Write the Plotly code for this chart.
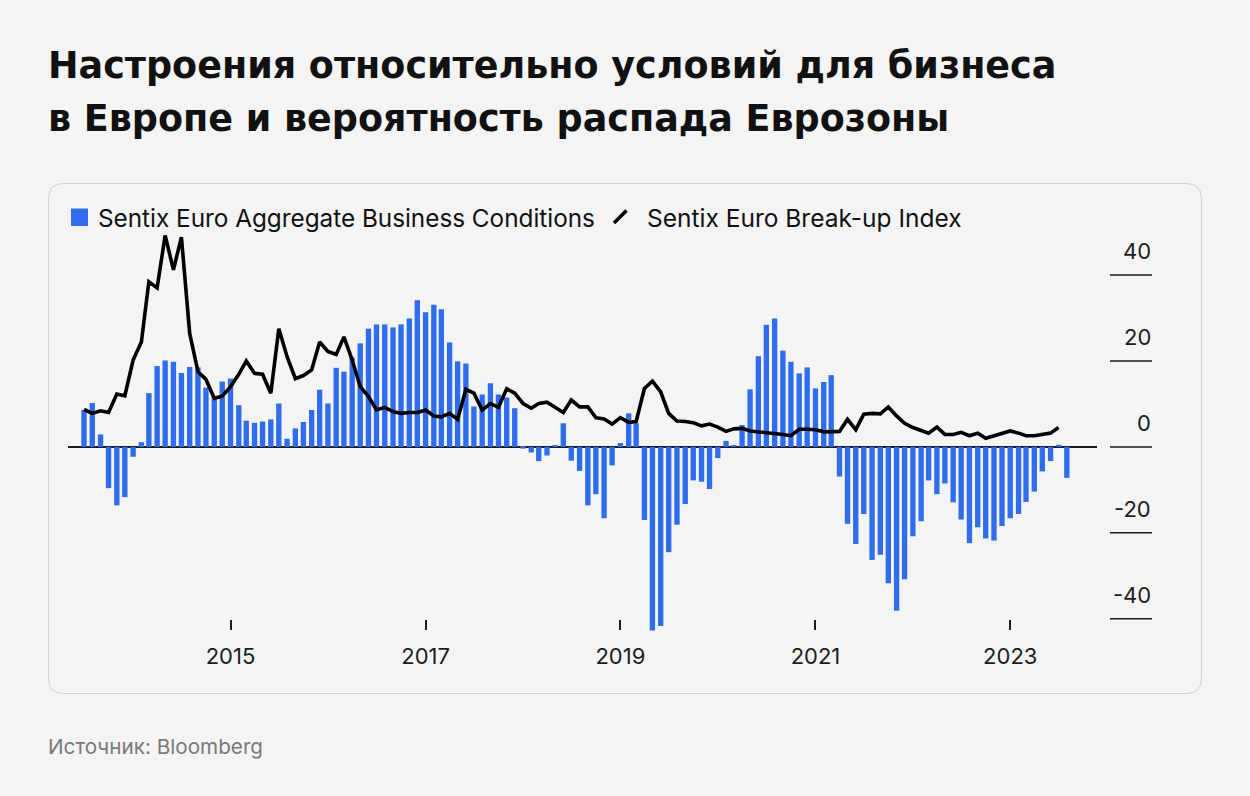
import plotly.graph_objects as go
import pandas as pd

# ---------------- data ----------------
bar_start = "2013-07-01"
business_conditions = [
    # 2013 Jul-Dec
    8.6, 10.2, 2.9, -9.6, -13.6, -11.7,
    # 2014
    -2.3, 1.1, 12.5, 18.8, 20.1, 19.8, 17.2, 18.6, 18.5, 13.8, 11.5, 15.2,
    # 2015
    15.9, 9.7, 6.1, 5.6, 5.9, 6.4, 10.1, 1.9, 4.3, 5.8, 8.6, 13.3,
    # 2016
    10.1, 18.4, 17.5, 20.8, 24.1, 27.5, 28.5, 28.5, 27.8, 28.5, 29.9, 34.1,
    # 2017
    31.3, 33.1, 32.0, 24.3, 19.9, 19.4, 9.4, 12.2, 14.8, 12.2, 11.5, 9.0,
    # 2018
    -0.4, -1.3, -3.3, -2.0, 0.3, 5.5, -3.2, -5.6, -13.6, -11.0, -16.6, -4.3,
    # 2019
    0.9, 7.8, 5.5, -17.0, -42.7, -41.7, -24.5, -18.1, -13.3, -7.8, -8.1, -9.8,
    # 2020
    -2.6, 1.4, 0.3, 5.1, 13.4, 21.1, 28.4, 29.9, 22.4, 19.8, 17.1, 18.5,
    # 2021
    13.6, 15.1, 16.7, -6.9, -17.9, -22.6, -15.6, -26.3, -25.1, -31.7, -38.1, -30.8,
    # 2022
    -20.8, -17.3, -7.8, -11.0, -8.5, -12.9, -16.9, -22.4, -18.7, -21.3, -21.8, -18.4,
    # 2023 Jan-Aug
    -16.6, -15.6, -12.8, -10.4, -5.7, -3.3, 0.5, -7.2,
]

line_start = "2013-07-01"
breakup_index = [
    # 2013 Jul-Dec
    8.7, 7.8, 8.4, 8.0, 12.3, 11.9,
    # 2014
    20.2, 24.4, 38.4, 37.0, 49.2, 41.2, 48.8, 26.4, 17.5, 15.7, 11.3, 11.8,
    # 2015
    14.0, 16.9, 20.0, 17.1, 16.9, 12.5, 27.5, 21.0, 15.9, 16.6, 17.9, 24.4,
    # 2016
    22.2, 21.5, 25.6, 20.2, 14.0, 11.7, 8.6, 9.2, 8.2, 7.8, 8.0, 8.0,
    # 2017
    8.6, 7.2, 7.0, 7.8, 6.4, 13.4, 12.5, 8.6, 10.1, 9.2, 13.5, 12.5,
    # 2018
    10.1, 9.0, 10.1, 10.4, 9.2, 8.0, 10.9, 9.3, 9.3, 6.8, 6.5, 5.3,
    # 2019
    6.8, 5.7, 5.9, 13.6, 15.3, 12.8, 7.8, 6.0, 5.9, 5.6, 4.9, 5.3,
    # 2020
    4.6, 3.6, 4.2, 4.3, 3.7, 3.5, 3.3, 3.3, 2.9, 2.6, 4.1, 4.1,
    # 2021
    4.0, 3.5, 3.5, 3.6, 6.4, 4.0, 7.6, 7.8, 7.7, 9.3, 7.2, 5.5,
    # 2022
    4.5, 3.7, 3.2, 4.6, 2.9, 2.9, 3.4, 2.6, 3.2, 2.0, 2.6, 3.3,
    # 2023 Jan-Jul
    3.7, 3.2, 2.6, 2.6, 2.9, 3.2, 4.5,
]

x_tick_years = [2015, 2017, 2019, 2021, 2023]
y_tick_values = [40, 20, 0, -20, -40]

title_lines = [
    "Настроения относительно условий для бизнеса",
    "в Европе и вероятность распада Еврозоны",
]
series_names = ["Sentix Euro Aggregate Business Conditions", "Sentix Euro Break-up Index"]
source_text = "Источник: Bloomberg"

# ---------------- styling / geometry ----------------
BLUE = "#2f6ded"
BG = "#f4f4f4"
INK = "#1c1c1c"
FONT = "Inter, Liberation Sans, Arial"

W, H = 1250, 796
ML, MR, MT, MB = 68, 153, 232, 160
PW = W - ML - MR
PH = H - MT - MB


def fx(px):
    return (px - ML) / PW


def fy(py):
    return (H - MB - py) / PH


bar_dates = pd.date_range(bar_start, periods=len(business_conditions), freq="MS")
line_dates = pd.date_range(line_start, periods=len(breakup_index), freq="MS")

fig = go.Figure()
fig.add_trace(go.Bar(
    x=bar_dates, y=business_conditions, name=series_names[0],
    marker=dict(color=BLUE, line=dict(width=0)),
    width=20 * 86400000, showlegend=False,
))
fig.add_trace(go.Scatter(
    x=line_dates, y=breakup_index, name=series_names[1], mode="lines",
    line=dict(color="#000000", width=3.6), showlegend=False,
))

shapes = []
# card with rounded corners
x0, x1, y0, y1, r = 48.5, 1201.5, 183.5, 693.5, 15
path = (
    f"M {fx(x0 + r)},{fy(y0)} L {fx(x1 - r)},{fy(y0)} "
    f"Q {fx(x1)},{fy(y0)} {fx(x1)},{fy(y0 + r)} L {fx(x1)},{fy(y1 - r)} "
    f"Q {fx(x1)},{fy(y1)} {fx(x1 - r)},{fy(y1)} L {fx(x0 + r)},{fy(y1)} "
    f"Q {fx(x0)},{fy(y1)} {fx(x0)},{fy(y1 - r)} L {fx(x0)},{fy(y0 + r)} "
    f"Q {fx(x0)},{fy(y0)} {fx(x0 + r)},{fy(y0)} Z"
)
shapes.append(dict(type="path", path=path, xref="paper", yref="paper",
                   line=dict(color="#cfcfcf", width=1), fillcolor=BG, layer="below"))
# legend markers
shapes.append(dict(type="rect", xref="paper", yref="paper",
                   x0=fx(71), x1=fx(88), y0=fy(226), y1=fy(208.5),
                   fillcolor=BLUE, line=dict(width=0)))
shapes.append(dict(type="line", xref="paper", yref="paper",
                   x0=fx(614), y0=fy(223), x1=fx(626.5), y1=fy(210.5),
                   line=dict(color="#000000", width=3.6)))
# right-side y ticks
for v in y_tick_values:
    shapes.append(dict(type="line", xref="paper", yref="y",
                       x0=fx(1110), x1=fx(1152), y0=v, y1=v,
                       line=dict(color=INK, width=1.5)))

annotations = []
for v in y_tick_values:
    annotations.append(dict(
        x=fx(1153), xref="paper", xanchor="right", y=v, yref="y", yanchor="bottom",
        yshift=9, text=str(v), showarrow=False,
        font=dict(family=FONT, size=22, color=INK)))

annotations.append(dict(
    x=fx(95.5), xref="paper", xanchor="left", y=fy(217.5), yref="paper", yanchor="middle",
    text=series_names[0], showarrow=False,
    font=dict(family=FONT, size=24.3, color="#111111")))
annotations.append(dict(
    x=fx(645), xref="paper", xanchor="left", y=fy(217.5), yref="paper", yanchor="middle",
    text=series_names[1], showarrow=False,
    font=dict(family=FONT, size=24.5, color="#111111")))

for txt, cy in zip(title_lines, [65.7, 118.2]):
    annotations.append(dict(
        x=fx(46), xref="paper", xanchor="left", y=fy(cy), yref="paper", yanchor="middle",
        text=f"<b>{txt}</b>", showarrow=False,
        font=dict(family="DejaVu Sans, Inter", size=36.5, color="#111111")))

annotations.append(dict(
    x=fx(46), xref="paper", xanchor="left", y=fy(746.5), yref="paper", yanchor="middle",
    text=source_text, showarrow=False,
    font=dict(family="Inter, Noto Sans", size=20.7, color="#7a7a7a")))

fig.update_layout(
    width=W, height=H,
    margin=dict(l=ML, r=MR, t=MT, b=MB, pad=0),
    paper_bgcolor=BG, plot_bgcolor="rgba(0,0,0,0)",
    bargap=0.35,
    shapes=shapes, annotations=annotations,
    xaxis=dict(
        type="date", range=["2013-05-02", "2023-11-22"],
        tickvals=[f"{yr}-01-01" for yr in x_tick_years],
        ticktext=[str(yr) for yr in x_tick_years],
        ticks="outside", ticklen=10, tickwidth=1.5, tickcolor=INK,
        showgrid=False, showline=False, zeroline=False,
        anchor="free", position=fy(619), ticklabelstandoff=8,
        tickfont=dict(family=FONT, size=22, color=INK),
    ),
    yaxis=dict(
        range=[-44, 50], showticklabels=False, showgrid=False, ticks="",
        zeroline=True, zerolinecolor=INK, zerolinewidth=1.5,
    ),
)

fig.write_html("out.html", config={"displayModeBar": False},
               post_script="document.body.style.margin='0';")
